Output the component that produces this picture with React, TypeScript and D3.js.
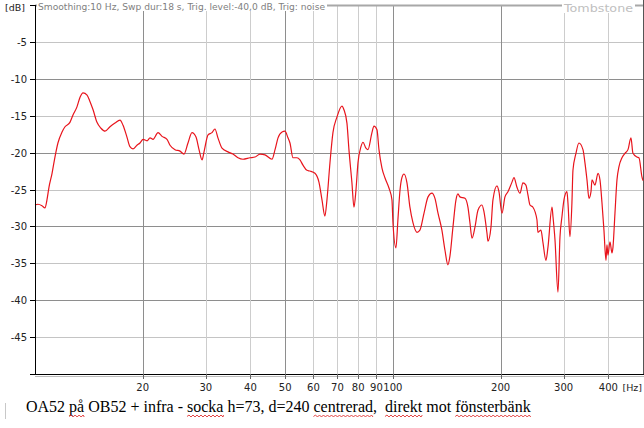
import React, { useEffect, useRef, useState } from "react";
import * as d3 from "d3";

const freqHz = [
  10.0, 10.19, 10.46, 10.66, 10.8, 10.94, 11.16, 11.37, 11.59, 11.9, 12.13, 12.52, 12.77, 13.1, 13.36, 13.62,
  13.98, 14.25, 14.53, 14.9, 15.29, 15.69, 16.2, 16.73, 17.28, 17.62, 18.07, 18.42, 18.78, 19.27, 19.65, 20.04,
  20.56, 20.96, 21.37, 22.07, 22.64, 23.38, 23.84, 24.62, 25.42, 26.08, 26.76, 27.46, 28.18, 28.73, 29.3, 29.67,
  30.45, 31.22, 31.83, 32.45, 33.31, 34.62, 35.75, 36.92, 38.13, 39.89, 41.19, 42.54, 43.93, 45.95, 46.85, 47.76,
  49.01, 49.94, 50.92, 51.58, 52.59, 53.96, 55.01, 56.08, 57.54, 58.67, 60.57, 62.15, 63.38, 64.58, 65.44, 66.71,
  68.01, 69.77, 72.06, 73.0, 74.42, 75.38, 76.85, 77.85, 78.86, 79.89, 81.45, 82.5, 84.1, 85.19, 87.41, 88.55,
  90.28, 91.45, 93.23, 95.02, 97.52, 99.42, 100.06, 102.0, 103.3, 104.7, 106.0, 107.4, 109.5, 111.6, 113.8, 116.8,
  119.0, 122.2, 125.4, 128.6, 131.1, 133.7, 137.1, 139.8, 142.5, 144.3, 147.2, 150.1, 152.0, 154.0, 159.0, 162.1,
  164.2, 166.4, 169.6, 172.9, 177.4, 179.7, 183.2, 184.4, 188.0, 190.4, 195.4, 197.9, 201.8, 205.7, 209.7, 215.2,
  218.0, 222.2, 226.6, 230.9, 235.4, 238.4, 241.6, 246.3, 252.7, 254.3, 259.3, 262.7, 267.8, 271.3, 278.4, 280.2,
  283.8, 289.3, 293.1, 296.8, 300.7, 306.5, 308.5, 312.5, 316.5, 318.6, 324.8, 331.1, 339.8, 344.2, 348.7, 353.2,
  357.8, 360.1, 367.1, 374.3, 379.1, 384.0, 388.9, 394.0, 396.5, 399.1, 404.3, 409.5, 412.2, 417.5, 422.9, 428.4,
  436.7, 445.2, 453.9, 462.7, 468.7, 480.9, 487.2, 496.7, 500.0,
];

const levelDb = [
  -27.1, -27.0, -27.2, -27.5, -26.4, -24.7, -22.8, -20.6, -18.7, -17.2, -16.5, -15.9, -14.9, -13.8, -12.5, -11.9,
  -12.2, -13.1, -14.2, -15.9, -16.7, -17.1, -16.5, -16.0, -15.6, -16.3, -17.9, -19.2, -19.5, -19.0, -18.7, -18.2,
  -18.4, -18.0, -18.2, -17.3, -17.8, -18.2, -19.0, -19.6, -19.8, -20.2, -18.7, -17.3, -17.9, -19.6, -21.0, -19.9,
  -17.6, -17.3, -16.8, -18.0, -19.4, -19.9, -20.2, -20.7, -20.9, -20.7, -20.6, -20.2, -20.3, -20.9, -19.6, -18.0,
  -17.2, -17.1, -18.0, -18.7, -20.7, -20.7, -21.0, -21.7, -22.4, -22.5, -22.8, -24.0, -26.4, -28.6, -26.4, -21.4,
  -17.3, -15.2, -13.7, -14.2, -16.0, -19.6, -24.1, -27.4, -25.1, -21.4, -19.2, -18.6, -19.4, -19.6, -17.3, -16.4,
  -16.9, -19.6, -22.1, -23.4, -24.8, -26.4, -29.5, -32.9, -29.1, -25.1, -23.4, -22.9, -24.1, -27.4, -29.5, -30.8,
  -30.5, -28.2, -26.0, -25.5, -26.2, -28.2, -30.5, -33.2, -35.2, -34.1, -30.1, -26.4, -25.6, -26.0, -26.2, -27.4,
  -29.5, -31.6, -30.1, -27.8, -27.1, -28.0, -30.9, -32.0, -30.1, -26.4, -24.5, -25.3, -28.2, -26.0, -25.3, -24.0,
  -23.4, -24.7, -25.5, -24.1, -24.4, -25.7, -27.1, -27.4, -29.1, -30.8, -30.5, -32.2, -34.6, -32.8, -27.4, -28.7,
  -31.8, -38.9, -31.4, -28.7, -26.4, -25.3, -26.8, -31.4, -26.8, -22.4, -20.1, -18.7, -19.6, -21.4, -23.7, -26.2,
  -25.3, -23.7, -24.4, -22.8, -23.7, -26.8, -30.5, -34.6, -32.5, -33.9, -32.1, -33.6, -32.8, -28.2, -23.7, -21.9,
  -20.7, -20.1, -19.6, -18.0, -20.1, -20.6, -20.7, -23.3, -23.8,
];

const xTicks = [20, 30, 40, 50, 60, 70, 80, 90, 100, 200, 300, 400];
const xMajor = [20, 50, 100, 200];
const yTicks = [-45, -40, -35, -30, -25, -20, -15, -10, -5];

const headerText = "Smoothing:10 Hz, Swp dur:18 s, Trig. level:-40,0 dB, Trig: noise";
const brandText = "Tombstone";
const captionText = "OA52 på OB52 + infra - socka h=73, d=240 centrerad,  direkt mot fönsterbänk";
const misspelled = ["på", "socka", "centrerad", "direkt", "fönsterbänk"];

const W = 644;
const H = 428;
const L = 35;
const R = 643;
const T = 5;
const B = 374;

export default function App() {
  const x = d3.scaleLog().domain([10, 500]).range([L, R]);
  const y = d3.scaleLinear().domain([-50, 0]).range([B, T]);
  const data = freqHz.map((f, i) => [f, levelDb[i]] as [number, number]);
  const line = d3
    .line<[number, number]>()
    .x((d) => x(d[0]))
    .y((d) => y(d[1]))
    .curve(d3.curveMonotoneX);

  const capRef = useRef<SVGTextElement>(null);
  const [waves, setWaves] = useState<string[]>([]);

  useEffect(() => {
    const el = capRef.current;
    if (!el) return;
    const paths: string[] = [];
    misspelled.forEach((w) => {
      const idx = captionText.indexOf(w);
      if (idx < 0) return;
      try {
        const x0 = el.getStartPositionOfChar(idx).x;
        const x1 = el.getEndPositionOfChar(idx + w.length - 1).x;
        let p = `M${x0},416.5`;
        let cx = x0;
        let up = true;
        while (cx < x1) {
          cx += 2;
          p += ` L${Math.min(cx, x1)},${up ? 415 : 417}`;
          up = !up;
        }
        paths.push(p);
      } catch (e) {}
    });
    setWaves(paths);
  }, []);

  const sans = "'DejaVu Sans', Verdana, sans-serif";

  return (
    <div style={{ position: "fixed", left: 0, top: 0, width: W, height: H, background: "#fff" }}>
      <svg width={W} height={H} style={{ display: "block" }}>
        <rect x={0} y={0} width={W} height={H} fill="#fff" />
        {yTicks.map((t) => (
          <line
            key={"hy" + t}
            x1={L}
            x2={R}
            y1={Math.round(y(t)) + 0.5}
            y2={Math.round(y(t)) + 0.5}
            stroke={t % 10 === 0 ? "#8e8e8e" : "#c4c4c4"}
            strokeWidth={1}
          />
        ))}
        {xTicks.map((t) => (
          <line
            key={"vx" + t}
            x1={Math.round(x(t)) + 0.5}
            x2={Math.round(x(t)) + 0.5}
            y1={T}
            y2={B}
            stroke={xMajor.includes(t) ? "#8e8e8e" : "#cdcdcd"}
            strokeWidth={1}
          />
        ))}
        <line x1={L} x2={R} y1={T + 0.5} y2={T + 0.5} stroke="#a8a8a8" strokeWidth={2} />
        <line x1={R + 0.5} x2={R + 0.5} y1={0} y2={B} stroke="#555" strokeWidth={1} />
        <path d={line(data) || ""} fill="none" stroke="#e8141c" strokeWidth={1.2} strokeLinejoin="round" />
        <line x1={L + 0.5} x2={L + 0.5} y1={T} y2={B + 1} stroke="#000" strokeWidth={1} />
        <line x1={L} x2={R + 1} y1={B + 0.5} y2={B + 0.5} stroke="#000" strokeWidth={1} />
        <line x1={L} x2={R + 1} y1={B + 2.5} y2={B + 2.5} stroke="#bbb" strokeWidth={1} />
        {[...yTicks, 0, -50].map((t) => (
          <line
            key={"ty" + t}
            x1={L - 5}
            x2={L}
            y1={Math.round(y(t)) + 0.5}
            y2={Math.round(y(t)) + 0.5}
            stroke="#000"
          />
        ))}
        {yTicks.map((t) => (
          <text
            key={"ly" + t}
            x={27}
            y={y(t) + 4}
            textAnchor="end"
            fontFamily={sans}
            fontSize={10}
            fill="#222"
          >
            {t}
          </text>
        ))}
        <text x={5} y={11} fontFamily={sans} fontSize={9.5} fill="#222">
          [dB]
        </text>
        {xTicks.map((t) => (
          <line
            key={"tx" + t}
            x1={Math.round(x(t)) + 0.5}
            x2={Math.round(x(t)) + 0.5}
            y1={B}
            y2={B + 5}
            stroke="#666"
          />
        ))}
        {xTicks.map((t) => (
          <text
            key={"lx" + t}
            x={x(t)}
            y={391}
            textAnchor="middle"
            fontFamily={sans}
            fontSize={10}
            fill="#222"
          >
            {t}
          </text>
        ))}
        <text x={642} y={391} textAnchor="end" fontFamily={sans} fontSize={9.5} fill="#222">
          [Hz]
        </text>
        <rect x={37} y={0} width={290} height={11} fill="#fff" />
        <text x={38} y={10} fontFamily={sans} fontSize={9} fill="#808080" textLength={287} lengthAdjust="spacingAndGlyphs">
          {headerText}
        </text>
        <rect x={562} y={0} width={73} height={13} fill="#fff" />
        <text x={564} y={12} fontFamily={sans} fontSize={11} fill="#c0c0c0" textLength={69} lengthAdjust="spacingAndGlyphs">
          {brandText}
        </text>
        <line x1={5.5} x2={5.5} y1={403} y2={419} stroke="#c8c8c8" strokeWidth={1} />
        <text
          ref={capRef}
          x={26}
          y={412}
          fontFamily="'Liberation Serif', 'Times New Roman', serif"
          fontSize={16}
          fill="#000"
          style={{ whiteSpace: "pre" }}
          xmlSpace="preserve"
        >
          {captionText}
        </text>
        {waves.map((p, i) => (
          <path key={"w" + i} d={p} fill="none" stroke="#e03030" strokeWidth={0.9} />
        ))}
      </svg>
    </div>
  );
}
